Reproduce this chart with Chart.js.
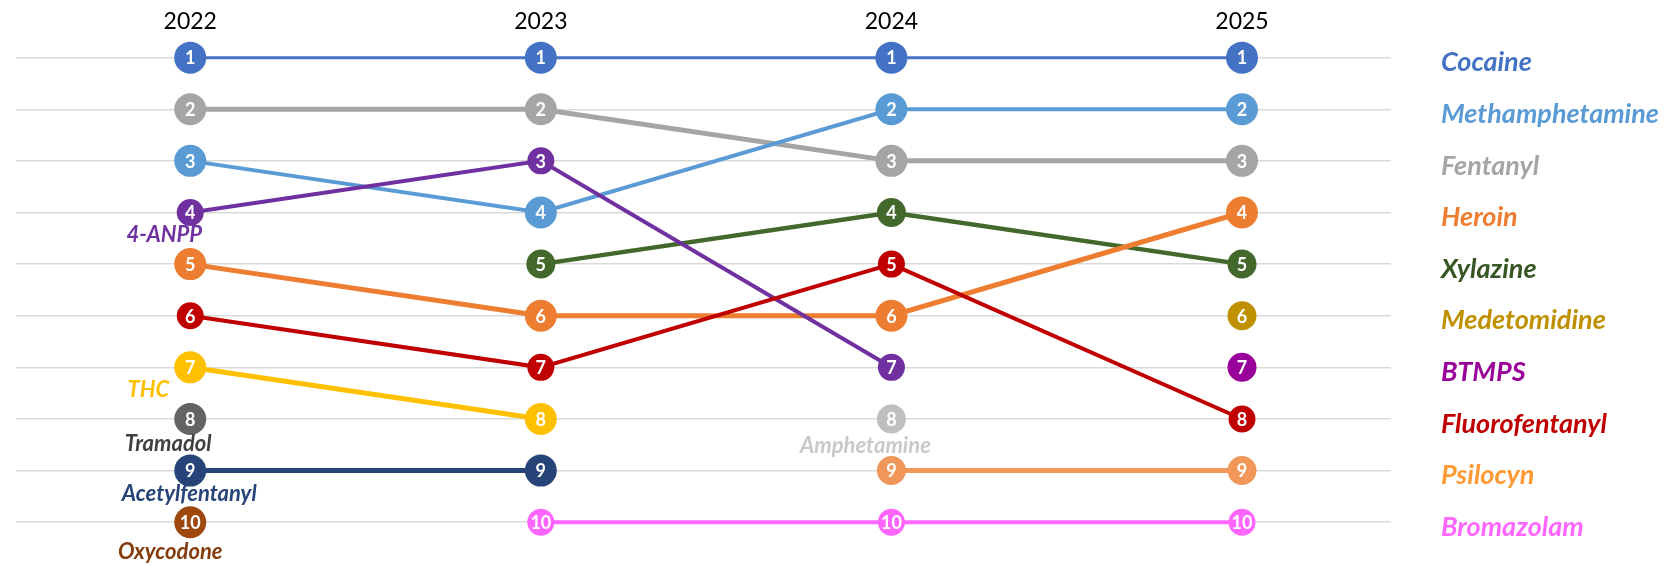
<!DOCTYPE html>
<html>
<head>
<meta charset="utf-8">
<script src="https://cdn.jsdelivr.net/npm/chart.js@4/dist/chart.umd.min.js"></script>
<style>
  html, body { margin: 0; padding: 0; background: #fff; }
  #wrap { width: 1671px; height: 566px; }
</style>
</head>
<body>
<div id="wrap"><canvas id="rankChart"></canvas></div>
<script>
// Years on the x axis
const years = [2022, 2023, 2024, 2025];

// Rank of each substance per year (null = not in the top 10 that year)
const fluorofentanyl = [6, 7, 5, 8];
const anpp = [4, 3, 7, null];
const methamphetamine = [3, 4, 2, 2];
const heroin = [5, 6, 6, 4];
const xylazine = [null, 5, 4, 5];
const fentanyl = [2, 2, 3, 3];
const cocaine = [1, 1, 1, 1];
const thc = [7, 8, null, null];
const acetylfentanyl = [9, 9, null, null];
const bromazolam = [null, 10, 10, 10];
const psilocyn = [null, null, 9, 9];
const medetomidine = [null, null, null, 6];
const btmps = [null, null, null, 7];
const tramadol = [8, null, null, null];
const oxycodone = [10, null, null, null];
const amphetamine = [null, null, 8, null];

// rank rows (gridlines)
const rankRows = [1, 2, 3, 4, 5, 6, 7, 8, 9, 10];

// Series, first one is drawn on top
const series = [
    { name: 'Fluorofentanyl', ranks: fluorofentanyl },
    { name: '4-ANPP', ranks: anpp },
    { name: 'Methamphetamine', ranks: methamphetamine },
    { name: 'Heroin', ranks: heroin },
    { name: 'Xylazine', ranks: xylazine },
    { name: 'Fentanyl', ranks: fentanyl },
    { name: 'Cocaine', ranks: cocaine },
    { name: 'THC', ranks: thc },
    { name: 'Acetylfentanyl', ranks: acetylfentanyl },
    { name: 'Bromazolam', ranks: bromazolam },
    { name: 'Psilocyn', ranks: psilocyn },
    { name: 'Medetomidine', ranks: medetomidine },
    { name: 'BTMPS', ranks: btmps },
    { name: 'Tramadol', ranks: tramadol },
    { name: 'Oxycodone', ranks: oxycodone },
    { name: 'Amphetamine', ranks: amphetamine }
];

// Look of each series: marker/line colour, text colour, line width, marker radius, name label shift
const styles = {
    'Cocaine':        { color: '#4472C4', text: '#4472C4', width: 3,   radius: 16 },
    'Methamphetamine':{ color: '#5B9BD5', text: '#5B9BD5', width: 4,   radius: 16 },
    'Fentanyl':       { color: '#A5A5A5', text: '#A5A5A5', width: 5,   radius: 16 },
    'Heroin':         { color: '#ED7D31', text: '#ED7D31', width: 5,   radius: 16 },
    'Xylazine':       { color: '#43682B', text: '#375623', width: 4.5, radius: 14.5 },
    'Medetomidine':   { color: '#BF9000', text: '#BF9000', width: 4,   radius: 14.5 },
    'BTMPS':          { color: '#990099', text: '#990099', width: 4,   radius: 14.5 },
    'Fluorofentanyl': { color: '#C00000', text: '#C00000', width: 4,   radius: 13.5 },
    'Psilocyn':       { color: '#F1975A', text: '#FF9933', width: 5,   radius: 14.5 },
    'Bromazolam':     { color: '#FF66FF', text: '#FF66FF', width: 4,   radius: 13.5 },
    '4-ANPP':         { color: '#7030A0', text: '#7030A0', width: 4,   radius: 13.5, shift: [-26, 22] },
    'THC':            { color: '#FFC000', text: '#FFC000', width: 5,   radius: 16,   shift: [-42, 23] },
    'Tramadol':       { color: '#636363', text: '#404040', width: 4,   radius: 16,   shift: [-22, 25] },
    'Acetylfentanyl': { color: '#264478', text: '#264478', width: 5,   radius: 16,   shift: [-1, 23] },
    'Oxycodone':      { color: '#9E480E', text: '#843C0C', width: 4,   radius: 16,   shift: [-20, 30] },
    'Amphetamine':    { color: '#BFBFBF', text: '#C9C9C9', width: 4,   radius: 14.5, shift: [-26, 27] }
};

const FONT = 'Lato';
const lastYear = years.length - 1;

// name shown at the right for a given rank in the final year
function nameAtRank(r) {
    const s = series.find(s => s.ranks[lastYear] === r);
    return s ? s.name : '';
}

const datasets = series.map(s => ({
    label: s.name,
    data: years.map((yr, i) => ({ x: yr, y: s.ranks[i] })),
    borderColor: styles[s.name].color,
    backgroundColor: styles[s.name].color,
    borderWidth: styles[s.name].width,
    pointRadius: styles[s.name].radius,
    pointHoverRadius: styles[s.name].radius,
    pointBorderWidth: 0,
    pointBackgroundColor: styles[s.name].color,
    tension: 0,
    spanGaps: false
}));

// rank numbers inside markers + names of series that drop out (placed under their first marker)
const rankLabels = {
    id: 'rankLabels',
    afterDatasetsDraw(chart) {
        const ctx = chart.ctx;
        ctx.save();
        ctx.textAlign = 'center';
        ctx.textBaseline = 'middle';
        chart.data.datasets.forEach((ds, i) => {
            const meta = chart.getDatasetMeta(i);
            const st = styles[ds.label];
            let first = null;
            meta.data.forEach((pt, j) => {
                const v = ds.data[j].y;
                if (v == null) return;
                if (!first) first = pt;
                ctx.fillStyle = '#ffffff';
                ctx.font = 'bold 18px ' + FONT;
                ctx.fillText(String(v), pt.x, pt.y + 1);
            });
            if (first && ds.data[lastYear].y == null) {
                const sh = st.shift || [-20, 25];
                ctx.fillStyle = st.text;
                ctx.font = 'italic bold 22px ' + FONT;
                ctx.fillText(ds.label, first.x + sh[0], first.y + sh[1]);
            }
        });
        ctx.restore();
    }
};

const ctx = document.getElementById('rankChart').getContext('2d');
const rankChart = new Chart(ctx, {
    type: 'line',
    data: { datasets: datasets },
    options: {
        responsive: true,
        maintainAspectRatio: false,
        animation: false,
        events: [],
        layout: { padding: { left: 13, top: 3, bottom: 18, right: 0 } },
        plugins: {
            legend: { display: false },
            tooltip: { enabled: false },
            title: { display: false }
        },
        scales: {
            x: {
                type: 'linear',
                position: 'top',
                min: 2021.503,
                max: 2025.425,
                afterBuildTicks: axis => { axis.ticks = years.map(v => ({ value: v })); },
                grid: { display: false, drawTicks: false },
                border: { display: false },
                ticks: {
                    padding: 5,
                    color: '#000000',
                    font: { family: FONT, size: 23 },
                    callback: v => String(v)
                }
            },
            y: {
                type: 'linear',
                position: 'right',
                reverse: true,
                min: 0.67,
                max: 10.5,
                afterBuildTicks: axis => { axis.ticks = rankRows.map(v => ({ value: v })); },
                afterFit: axis => {
                    axis.width = 280;
                    axis.paddingTop = 0;
                    axis.paddingBottom = 0;
                },
                grid: { color: '#D9D9D9', lineWidth: 1.5, drawTicks: false },
                border: { display: false },
                ticks: {
                    padding: 50,
                    labelOffset: 5,
                    crossAlign: 'near',
                    font: { family: FONT, size: 27, style: 'italic', weight: 'bold' },
                    color: c => {
                        const n = nameAtRank(c.tick.value);
                        return n ? styles[n].text : '#000';
                    },
                    callback: v => nameAtRank(v)
                }
            }
        }
    },
    plugins: [rankLabels]
});
</script>
</body>
</html>
